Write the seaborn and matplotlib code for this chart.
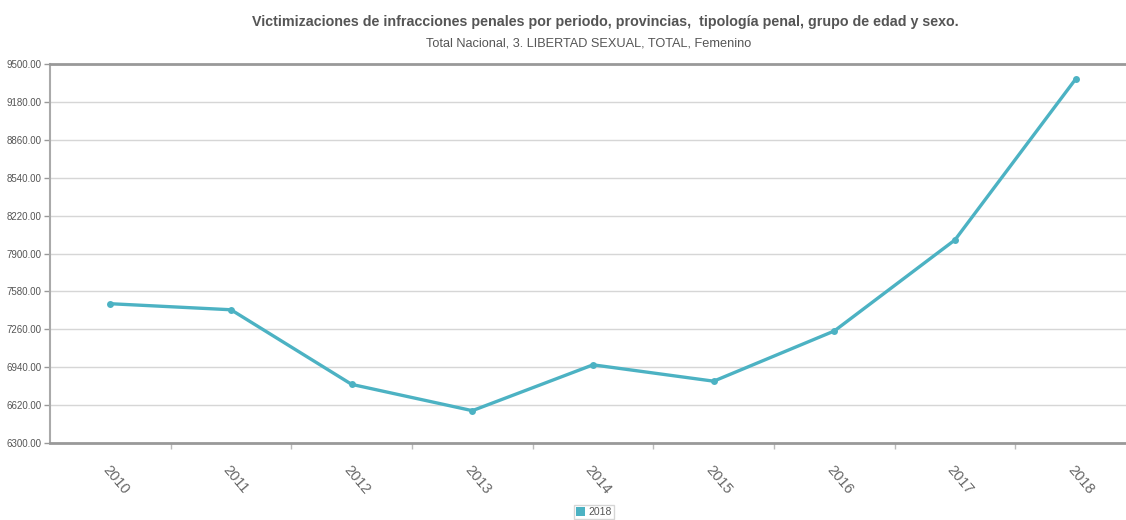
import matplotlib
matplotlib.use("Agg")
import matplotlib.pyplot as plt
from matplotlib.patches import Patch
from matplotlib.ticker import FixedLocator
import seaborn as sns
import pandas as pd

# Victimizations per year (Total Nacional, libertad sexual, femenino)
years = ["2010", "2011", "2012", "2013", "2014", "2015", "2016", "2017", "2018"]
victims = [7476, 7425, 6795, 6573, 6960, 6822, 7246, 8015, 9373]
series_name = "2018"
y_ticks = [6300, 6620, 6940, 7260, 7580, 7900, 8220, 8540, 8860, 9180, 9500]

title = "Victimizaciones de infracciones penales por periodo, provincias,  tipología penal, grupo de edad y sexo."
subtitle = "Total Nacional, 3. LIBERTAD SEXUAL, TOTAL, Femenino"

sns.set_theme(style="white")
plt.rcParams["font.family"] = ["Liberation Sans Narrow", "Liberation Sans", "DejaVu Sans"]

df = pd.DataFrame({"year": years, "value": victims})
df["pos"] = range(len(years))

line_color = "#4cb2c3"
text_color = "#555555"

fig = plt.figure(figsize=(11.26, 5.2), dpi=100)
ax = fig.add_axes([50 / 1126, 77 / 520, 1086 / 1126, 379 / 520])

sns.lineplot(data=df, x="pos", y="value", ax=ax, color=line_color,
             linewidth=2.4, marker="o", markersize=5, markeredgewidth=0,
             legend=False)

ax.set_xlim(-0.5, len(years) - 0.5)
ax.set_ylim(y_ticks[0], y_ticks[-1])

# y axis
ax.set_yticks(y_ticks)
ax.set_yticklabels([f"{v:.2f}" for v in y_ticks], fontsize=7, color=text_color)
ax.yaxis.grid(True, color="#d6d6d6", linewidth=1)
ax.tick_params(axis="y", length=4, width=1, color="#999999", pad=2, left=True)

# x axis: labels at category centres, tick marks at band boundaries
ax.set_xticks(df["pos"])
ax.set_xticklabels(years, rotation=-50, ha="left", va="top",
                   rotation_mode="anchor", fontsize=10.5, color="#666666")
ax.tick_params(axis="x", length=0, pad=14)
ax.xaxis.set_minor_locator(FixedLocator([i + 0.5 for i in range(len(years) - 1)]))
ax.tick_params(axis="x", which="minor", length=4, width=1, color="#bbbbbb",
               direction="out", bottom=True)
ax.set_xlabel("")
ax.set_ylabel("")

ax.spines["right"].set_visible(False)
ax.spines["left"].set_color("#aaaaaa")
ax.spines["left"].set_linewidth(1.5)
ax.spines["bottom"].set_color("#999999")
ax.spines["bottom"].set_linewidth(2)
ax.spines["top"].set_color("#999999")
ax.spines["top"].set_linewidth(2)

fig.text(605 / 1126, 1 - 22 / 520, title, ha="center", va="center",
         fontsize=10.3, fontweight="bold", color="#555555")
fig.text(589 / 1126, 1 - 44 / 520, subtitle, ha="center", va="center",
         fontsize=9.2, color="#555555")

handle = Patch(facecolor=line_color, edgecolor="none")
fig.legend([handle], [series_name], loc="center", bbox_to_anchor=(594 / 1126, 1 - 512 / 520),
           fontsize=7.5, frameon=True, edgecolor="#cccccc", fancybox=False,
           handlelength=0.9, handleheight=0.9, handletextpad=0.3, borderpad=0.2,
           labelcolor=text_color)

fig.savefig("out.png", dpi=100)
